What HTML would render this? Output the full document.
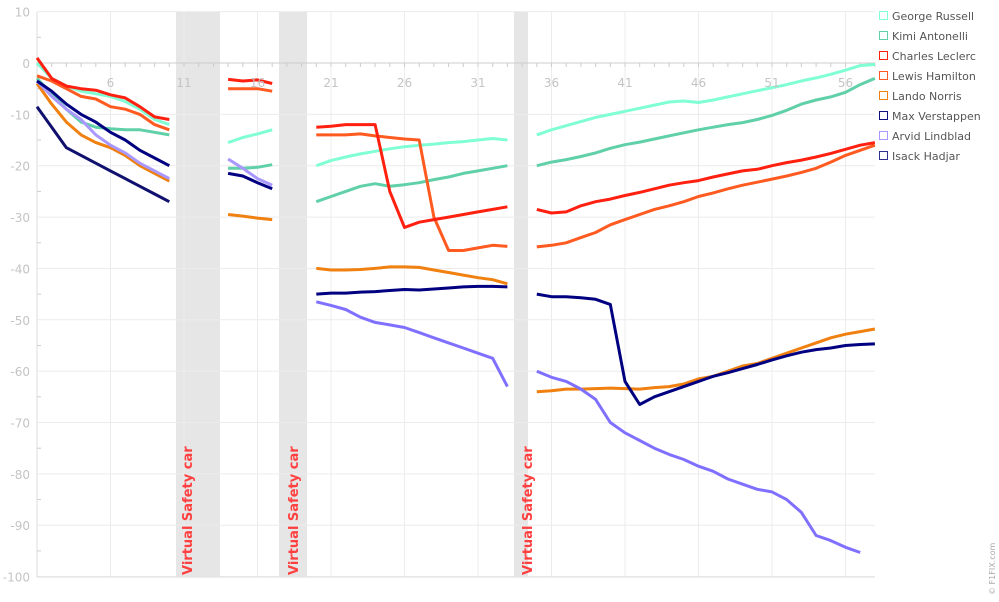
<!DOCTYPE html><html><head><style>body{margin:0;background:#fff}svg{display:block;font-family:"DejaVu Sans","Liberation Sans",sans-serif}</style></head><body>
<svg id="s" width="999" height="602" xmlns="http://www.w3.org/2000/svg">
<rect x="176" y="12" width="44" height="565" fill="#e6e6e6"/>
<rect x="279" y="12" width="28" height="565" fill="#e6e6e6"/>
<rect x="514" y="12" width="14" height="565" fill="#e6e6e6"/>
<g id="grid" stroke="#ececec" stroke-width="1"></g>
<g id="lines" fill="none" stroke-width="3" stroke-linejoin="round"></g>
<g font-size="13" font-weight="bold" fill="#ff4040">
<text transform="translate(192,575) rotate(-90)">Virtual Safety car</text>
<text transform="translate(298,575) rotate(-90)">Virtual Safety car</text>
<text transform="translate(532,575) rotate(-90)">Virtual Safety car</text>
</g>
<g id="lab" font-size="12" fill="#c4c4c4"></g>
<g font-size="11" fill="#555">
<rect x="879.5" y="11.5" width="8" height="8" fill="none" stroke="#80ffd4"/><text x="892" y="20">George Russell</text>
<rect x="879.5" y="31.5" width="8" height="8" fill="none" stroke="#60d0a8"/><text x="892" y="40">Kimi Antonelli</text>
<rect x="879.5" y="51.5" width="8" height="8" fill="none" stroke="#ff2010"/><text x="892" y="60">Charles Leclerc</text>
<rect x="879.5" y="71.5" width="8" height="8" fill="none" stroke="#ff5a20"/><text x="892" y="80">Lewis Hamilton</text>
<rect x="879.5" y="91.5" width="8" height="8" fill="none" stroke="#f08010"/><text x="892" y="100">Lando Norris</text>
<rect x="879.5" y="111.5" width="8" height="8" fill="none" stroke="#101080"/><text x="892" y="120">Max Verstappen</text>
<rect x="879.5" y="131.5" width="8" height="8" fill="none" stroke="#a898ff"/><text x="892" y="140">Arvid Lindblad</text>
<rect x="879.5" y="151.5" width="8" height="8" fill="none" stroke="#303090"/><text x="892" y="160">Isack Hadjar</text>
</g>
<text transform="translate(995,595) rotate(-90)" font-size="8" fill="#aaa">© F1FIX.com</text>
</svg>
<script>
const X=l=>37+(l-1)*14.7, Y=v=>63-v*5.136;
const ns="http://www.w3.org/2000/svg";
const g=document.getElementById('grid'),lab=document.getElementById('lab'),L=document.getElementById('lines');
function el(p,t,a,txt){const e=document.createElementNS(ns,t);for(const k in a)e.setAttribute(k,a[k]);if(txt)e.textContent=txt;p.appendChild(e);return e;}
for(let v=10;v>=-100;v-=10){el(g,'line',{x1:37,x2:875,y1:Y(v),y2:Y(v)});el(lab,'text',{x:30,y:Y(v)+5,'text-anchor':'end'},String(v));}
for(let l=6;l<=56;l+=5){el(g,'line',{x1:X(l),x2:X(l),y1:12,y2:577});el(lab,'text',{x:X(l),y:87,'text-anchor':'middle'},String(l));}
el(g,'line',{x1:37,x2:37,y1:12,y2:577,stroke:'#ddd'});
el(g,'line',{x1:37,x2:875,y1:Y(0),y2:Y(0),stroke:'#ccc'});
el(g,'line',{x1:37,x2:875,y1:577,y2:577,stroke:'#ddd'});
for(let l=1;l<=58;l++)el(g,'line',{x1:X(l),x2:X(l),y1:63,y2:67,stroke:'#ccc'});
for(let v=5;v>=-95;v-=10)el(g,'line',{x1:37,x2:41,y1:Y(v),y2:Y(v),stroke:'#ccc'});
function lin(a,b,n){const r=[];for(let i=0;i<n;i++)r.push(a+(b-a)*i/(n-1));return r;}
const D={
'#80ffd4':[[1,[0,-3,-4.5,-5.5,-6,-6.5,-7.5,-9,-11,-12]],[14,[-15.5,-14.5,-13.8,-13]],[20,[-20,-19,-18.3,-17.7,-17.2,-16.7,-16.3,-16,-15.8,-15.5,-15.3,-15,-14.7,-15]],[35,[-14,-13,-12.2,-11.4,-10.6,-10,-9.4,-8.8,-8.2,-7.6,-7.4,-7.7,-7.2,-6.6,-6,-5.4,-4.8,-4.2,-3.5,-2.9,-2.2,-1.4,-0.5,-0.3]]],
'#60d0a8':[[1,[-3,-6,-9,-11.5,-12.5,-12.8,-13,-13,-13.5,-14]],[14,[-20.5,-20.5,-20.3,-19.8]],[20,[-27,-26,-25,-24,-23.5,-24,-23.7,-23.3,-22.7,-22.2,-21.5,-21,-20.5,-20]],[35,[-20,-19.3,-18.8,-18.2,-17.5,-16.6,-15.9,-15.4,-14.8,-14.2,-13.6,-13,-12.5,-12,-11.6,-11,-10.2,-9.2,-8,-7.2,-6.6,-5.7,-4.2,-3]]],
'#ff5a20':[[1,[-2.5,-3.5,-5,-6.5,-7,-8.5,-9,-10,-12,-13]],[14,[-5,-5,-5,-5.5]],[20,[-14,-14,-14,-13.8,-14.2,-14.5,-14.8,-15,-30,-36.5,-36.5,-36,-35.5,-35.7]],[35,[-35.8,-35.5,-35,-34,-33,-31.5,-30.5,-29.5,-28.5,-27.8,-27,-26,-25.3,-24.5,-23.8,-23.2,-22.6,-22,-21.3,-20.5,-19.3,-18,-17,-16]]],
'#ff2010':[[1,[1,-3,-4.5,-5,-5.3,-6.2,-6.8,-8.5,-10.5,-11]],[14,[-3.2,-3.5,-3.3,-4]],[20,[-12.5,-12.3,-12,-12,-12,-25,-32,-31,-30.5,-30,-29.5,-29,-28.5,-28]],[35,[-28.5,-29.2,-29,-27.8,-27,-26.5,-25.8,-25.2,-24.5,-23.8,-23.3,-22.9,-22.2,-21.6,-21,-20.7,-20,-19.4,-18.9,-18.3,-17.6,-16.8,-16,-15.5]]],
'#f08010':[[1,[-4,-8,-11.5,-14,-15.5,-16.5,-18,-20,-21.5,-23]],[14,[-29.5,-29.8,-30.2,-30.5]],[20,[-40,-40.3,-40.3,-40.2,-40,-39.7,-39.7,-39.8,-40.3,-40.8,-41.3,-41.8,-42.2,-43]],[35,[-64,-63.8,-63.5,-63.5,-63.4,-63.3,-63.4,-63.5,-63.2,-63,-62.5,-61.5,-61,-60,-59,-58.5,-57.5,-56.5,-55.5,-54.5,-53.5,-52.8,-52.3,-51.8]]],
'#a898ff':[[1,[-3.5,-6.5,-9,-11,-14,-16,-17.5,-19.5,-21,-22.5]],[14,[-18.7,-20.5,-22.5,-23.8]]],
'#8070ff':[[20,[-46.5,-47.2,-48,-49.5,-50.5,-51,-51.5,-52.5,-53.5,-54.5,-55.5,-56.5,-57.5,-63]],[35,[-60,-61.2,-62,-63.5,-65.5,-70,-72,-73.5,-75,-76.2,-77.2,-78.5,-79.5,-81,-82,-83,-83.5,-85,-87.5,-92,-93,-94.3,-95.3]]],
'#000080':[[1,[-3.5,-5.5,-8,-10,-11.5,-13.5,-15,-17,-18.5,-20]],[14,[-21.5,-22,-23.3,-24.5]],[20,[-45,-44.8,-44.8,-44.6,-44.5,-44.3,-44.1,-44.2,-44,-43.8,-43.6,-43.5,-43.5,-43.6]],[35,[-45,-45.5,-45.5,-45.7,-46,-47,-62,-66.5,-65,-64,-63,-62,-61,-60.3,-59.5,-58.7,-57.8,-57,-56.3,-55.8,-55.5,-55,-54.8,-54.7]]],
'#10106e':[[1,[-8.5,-12.5,-16.5,-18,-19.5,-21,-22.5,-24,-25.5,-27]]]
};
for(const c in D)for(const [s,a] of D[c])el(L,'polyline',{stroke:c,points:a.map((v,i)=>X(s+i).toFixed(1)+','+Y(v).toFixed(1)).join(' ')});
</script>
</body></html>
